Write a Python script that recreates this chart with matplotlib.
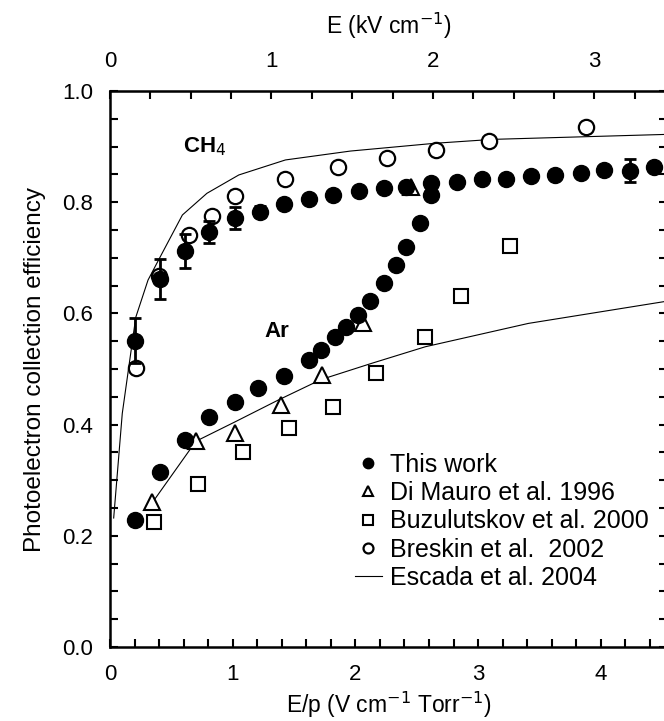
import numpy as np
import matplotlib
matplotlib.use("Agg")
import matplotlib.pyplot as plt
from matplotlib.ticker import MultipleLocator, FixedLocator, FormatStrFormatter

plt.rcParams['font.family'] = ['Liberation Sans', 'DejaVu Sans']

# This work, CH4 (E/p, efficiency, error)
ch4_x = [0.20, 0.41, 0.61, 0.81, 1.02, 1.22, 1.42, 1.62, 1.82, 2.03, 2.23, 2.41, 2.62,
         2.83, 3.03, 3.23, 3.43, 3.63, 3.84, 4.03, 4.24, 4.43]
ch4_y = [0.551, 0.662, 0.712, 0.747, 0.772, 0.783, 0.797, 0.806, 0.813, 0.821, 0.825,
         0.828, 0.834, 0.836, 0.841, 0.842, 0.848, 0.849, 0.853, 0.858, 0.857, 0.864]
ch4_err = [0.04, 0.036, 0.03, 0.02, 0.02, 0.01, 0, 0, 0, 0, 0, 0, 0,
           0, 0, 0, 0, 0, 0, 0, 0.02, 0]

# This work, Ar
ar_x = [0.20, 0.41, 0.61, 0.81, 1.015, 1.21, 1.42, 1.62, 1.72, 1.83, 1.92, 2.02,
        2.12, 2.23, 2.33, 2.41, 2.53, 2.62]
ar_y = [0.228, 0.315, 0.372, 0.414, 0.44, 0.465, 0.487, 0.517, 0.535, 0.558, 0.575,
        0.597, 0.622, 0.654, 0.687, 0.72, 0.762, 0.813]

# Di Mauro et al. 1996
dm_x = [0.34, 0.70, 1.02, 1.39, 1.73, 2.06, 2.45]
dm_y = [0.261, 0.371, 0.385, 0.435, 0.489, 0.582, 0.828]

# Buzulutskov et al. 2000
bz_x = [0.355, 0.72, 1.08, 1.455, 1.82, 2.17, 2.57, 2.86, 3.26]
bz_y = [0.224, 0.293, 0.351, 0.393, 0.432, 0.492, 0.557, 0.631, 0.722]

# Breskin et al. 2002
br_x = [0.21, 0.40, 0.64, 0.83, 1.02, 1.43, 1.86, 2.26, 2.66, 3.09, 3.88]
br_y = [0.501, 0.668, 0.741, 0.776, 0.811, 0.841, 0.863, 0.880, 0.894, 0.910, 0.935]

# Escada et al. 2004 (curves)
esc_ch4_x = [0.03, 0.1, 0.21, 0.31, 0.41, 0.59, 0.79, 1.05, 1.43, 1.96, 2.65, 3.12, 4.54]
esc_ch4_y = [0.232, 0.42, 0.593, 0.66, 0.702, 0.777, 0.816, 0.849, 0.876, 0.892, 0.906, 0.913, 0.922]
esc_ar_x = [0.33, 0.70, 1.02, 1.37, 1.72, 2.13, 2.57, 3.41, 4.54]
esc_ar_y = [0.255, 0.37, 0.405, 0.444, 0.481, 0.51, 0.54, 0.582, 0.622]

fig = plt.figure(figsize=(6.64, 7.21), dpi=100)
ax = fig.add_axes([110/664, 74/721, 557/664, 556/721])

ax.plot(esc_ch4_x, esc_ch4_y, color='black', lw=0.8, label='Escada et al. 2004', zorder=1)
ax.plot(esc_ar_x, esc_ar_y, color='black', lw=0.8, zorder=1)

ax.plot(bz_x, bz_y, ls='none', marker='s', ms=10, mfc='white', mec='black', mew=1.5,
        label='Buzulutskov et al. 2000', zorder=2)
ax.plot(dm_x, dm_y, ls='none', marker='^', ms=11, mfc='white', mec='black', mew=1.5,
        label='Di Mauro et al. 1996', zorder=2)
ax.plot(br_x, br_y, ls='none', marker='o', ms=11, mfc='white', mec='black', mew=1.6,
        label='Breskin et al.  2002', zorder=2)

ax.errorbar(ch4_x, ch4_y, yerr=ch4_err, fmt='none', ecolor='black', elinewidth=2,
            capsize=4.5, capthick=2, zorder=3)
ax.plot(ch4_x, ch4_y, ls='none', marker='o', ms=11.5, color='black', label='This work', zorder=4)
ax.plot(ar_x, ar_y, ls='none', marker='o', ms=11.5, color='black', zorder=4)

ax.text(0.77, 0.90, 'CH$_4$', fontsize=16, fontweight='bold', ha='center', va='center')
ax.text(1.36, 0.567, 'Ar', fontsize=16, fontweight='bold', ha='center', va='center')

ax.set_xlim(0, 4.54)
ax.set_ylim(0, 1.0)
ax.xaxis.set_major_locator(MultipleLocator(1))
ax.xaxis.set_minor_locator(MultipleLocator(0.2))
ax.yaxis.set_major_locator(MultipleLocator(0.2))
ax.yaxis.set_minor_locator(MultipleLocator(0.05))
ax.yaxis.set_major_formatter(FormatStrFormatter('%.1f'))
ax.tick_params(which='both', direction='in', length=6, width=1.5, labelsize=16,
               right=True)
ax.tick_params(axis='x', pad=12)
ax.tick_params(axis='y', pad=12)
for s in ax.spines.values():
    s.set_linewidth(1.8)

ax.set_xlabel('E/p (V cm$^{-1}$ Torr$^{-1}$)', fontsize=16.5, labelpad=4)
ax.set_ylabel('Photoelectron collection efficiency', fontsize=17.5, labelpad=12)

top = ax.secondary_xaxis('top', functions=(lambda x: x * 0.76, lambda x: x / 0.76))
top.xaxis.set_major_locator(FixedLocator([0, 1, 2, 3]))
top.xaxis.set_minor_locator(FixedLocator(np.arange(0, 3.3, 0.25)))
top.tick_params(which='both', direction='in', length=6, width=1.5, labelsize=16, pad=14)
top.set_xlabel('E (kV cm$^{-1}$)', fontsize=16.5, labelpad=12)

h, l = ax.get_legend_handles_labels()
order = ['This work', 'Di Mauro et al. 1996', 'Buzulutskov et al. 2000',
         'Breskin et al.  2002', 'Escada et al. 2004']
hh = [h[l.index(k)] for k in order]
ax.legend(hh, order, loc='upper left', bbox_to_anchor=(0.439, 0.349), frameon=False,
          fontsize=18, markerscale=0.65, handlelength=1.1, handletextpad=0.3,
          labelspacing=0.17, borderpad=0, borderaxespad=0)

fig.savefig('out.png', dpi=100)
